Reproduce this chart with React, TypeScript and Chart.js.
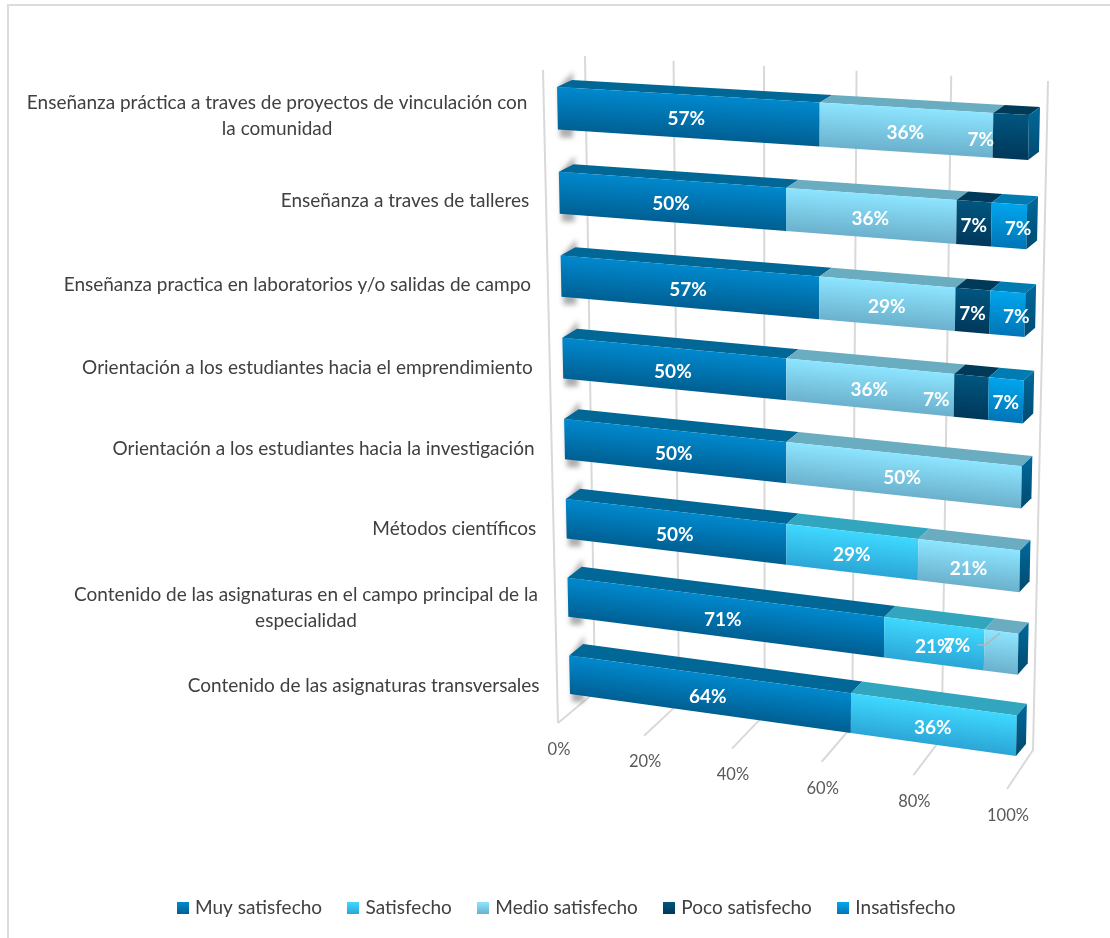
import React, { useEffect, useRef } from "react";
import { Chart, registerables } from "chart.js";

Chart.register(...registerables);

const categories: (string | string[])[] = [
  ["Enseñanza práctica a traves de proyectos de vinculación con", "la comunidad"],
  "Enseñanza a traves de talleres",
  "Enseñanza practica en laboratorios y/o salidas de campo",
  "Orientación a los estudiantes hacia el emprendimiento",
  "Orientación a los estudiantes hacia la investigación",
  "Métodos científicos",
  ["Contenido de las asignaturas en el campo principal de la", "especialidad"],
  "Contenido de las asignaturas transversales",
];

const muySatisfecho = [57.14, 50, 57.14, 50, 50, 50, 71.43, 64.29];
const satisfecho = [null, null, null, null, null, 28.57, 21.43, 35.71];
const medioSatisfecho = [35.72, 35.71, 28.57, 35.71, 50, 21.43, 7.14, null];
const pocoSatisfecho = [7.14, 7.14, 7.14, 7.15, null, null, null, null];
const insatisfecho = [null, 7.15, 7.15, 7.14, null, null, null, null];

const seriesNames = ["Muy satisfecho", "Satisfecho", "Medio satisfecho", "Poco satisfecho", "Insatisfecho"];
const seriesValues = [muySatisfecho, satisfecho, medioSatisfecho, pocoSatisfecho, insatisfecho];

// style: front gradient top, front gradient bottom, top face
const seriesStyles = [
  ["#0089CE", "#005F92", "#006796"],
  ["#3FD8FF", "#2BA6D6", "#33A6BF"],
  ["#8DE5FF", "#6BB0CC", "#6AADC0"],
  ["#005680", "#00385A", "#003A58"],
  ["#00A6EE", "#0075B6", "#007CB2"],
];

// Calibration of the 3-D look: unit square -> quadrilateral on the page
type Pt = [number, number];
const FRONT_PLANE: Pt[] = [[557, 87], [1029, 115], [1016, 756], [570, 694]];
const BACK_PLANE: Pt[] = [[572, 80], [1040, 107], [1026, 744], [584, 682]];
const WALL_PLANE: Pt[] = [[585, 56], [1048, 81], [1033, 750], [595, 692]];
const FLOOR_FRONT: Pt[] = [[558, 723], [1007, 789]];
const SIDE_EDGE: Pt[] = [[543, 70], [558, 723]];
const BAR_FRACTION = 0.5;

// manual label nudges, as in the source (row:series -> dx, dy)
const labelShift: Record<string, Pt> = {
  "0:3": [-30, 0],
  "3:3": [-35, 0],
  "6:2": [-44, -9],
  "1:4": [9, 0],
  "2:4": [9, 0],
};

function homography(q: Pt[]) {
  const [[x0, y0], [x1, y1], [x2, y2], [x3, y3]] = q;
  const dx1 = x1 - x2, dx2 = x3 - x2, dx3 = x0 - x1 + x2 - x3;
  const dy1 = y1 - y2, dy2 = y3 - y2, dy3 = y0 - y1 + y2 - y3;
  const den = dx1 * dy2 - dx2 * dy1;
  const g = (dx3 * dy2 - dx2 * dy3) / den;
  const h = (dx1 * dy3 - dx3 * dy1) / den;
  const a = x1 - x0 + g * x1, b = x3 - x0 + h * x3, c = x0;
  const d = y1 - y0 + g * y1, e = y3 - y0 + h * y3, f = y0;
  return (s: number, t: number): Pt => {
    const w = g * s + h * t + 1;
    return [(a * s + b * t + c) / w, (d * s + e * t + f) / w];
  };
}

const frontMap = homography(FRONT_PLANE);
const backMap = homography(BACK_PLANE);
const wallMap = homography(WALL_PLANE);

// the floor's front edge takes the same fractions as the wall's bottom edge
function floorFront(u: number): Pt {
  const start = wallMap(0, 1)[0], end = wallMap(1, 1)[0];
  const f = (wallMap(u, 1)[0] - start) / (end - start);
  return [
    FLOOR_FRONT[0][0] + f * (FLOOR_FRONT[1][0] - FLOOR_FRONT[0][0]),
    FLOOR_FRONT[0][1] + f * (FLOOR_FRONT[1][1] - FLOOR_FRONT[0][1]),
  ];
}

function poly(ctx: CanvasRenderingContext2D, pts: Pt[]) {
  ctx.beginPath();
  pts.forEach((p, i) => (i ? ctx.lineTo(p[0], p[1]) : ctx.moveTo(p[0], p[1])));
  ctx.closePath();
}

function acrossGradient(ctx: CanvasRenderingContext2D, tl: Pt, tr: Pt, bl: Pt, br: Pt, c0: string, c1: string) {
  const tm: Pt = [(tl[0] + tr[0]) / 2, (tl[1] + tr[1]) / 2];
  const bm: Pt = [(bl[0] + br[0]) / 2, (bl[1] + br[1]) / 2];
  const ex = tr[0] - tl[0], ey = tr[1] - tl[1];
  const len = Math.hypot(ex, ey) || 1;
  const nx = -ey / len, ny = ex / len;
  const d = (bm[0] - tm[0]) * nx + (bm[1] - tm[1]) * ny;
  const g = ctx.createLinearGradient(tm[0], tm[1], tm[0] + nx * d, tm[1] + ny * d);
  g.addColorStop(0, c0);
  g.addColorStop(1, c1);
  return g;
}

function swatch(c0: string, c1: string) {
  const cv = document.createElement("canvas");
  cv.width = 12;
  cv.height = 12;
  const x = cv.getContext("2d") as CanvasRenderingContext2D;
  const g = x.createLinearGradient(0, 0, 0, 12);
  g.addColorStop(0, c0);
  g.addColorStop(1, c1);
  x.fillStyle = g;
  x.fillRect(0, 0, 12, 12);
  return cv;
}

const FONT = "Lato, Carlito, sans-serif";

const plot3d = {
  id: "plot3d",
  beforeDatasetsDraw(chart: any) {
    const { ctx, chartArea: area, scales } = chart;
    const x = scales.x, y = scales.y;
    const U = (px: number) => (px - area.left) / area.width;
    const V = (py: number) => {
      const pad = ((1 - BAR_FRACTION) / 2) * (area.height / categories.length);
      return (py - area.top - pad) / (area.height - 2 * pad);
    };
    ctx.save();

    // gridlines
    ctx.strokeStyle = "#D9D9D9";
    ctx.lineWidth = 2;
    ctx.beginPath();
    ctx.moveTo(SIDE_EDGE[0][0], SIDE_EDGE[0][1]);
    ctx.lineTo(SIDE_EDGE[1][0], SIDE_EDGE[1][1]);
    x.ticks.forEach((tick: any) => {
      const u = U(x.getPixelForValue(tick.value));
      const a = wallMap(u, 0), b = wallMap(u, 1), c = floorFront(u);
      ctx.moveTo(a[0], a[1]);
      ctx.lineTo(b[0], b[1]);
      ctx.lineTo(c[0], c[1]);
    });
    ctx.stroke();

    // value ticks along the floor's front edge
    ctx.fillStyle = "#595959";
    ctx.font = `16.5px ${FONT}`;
    ctx.textAlign = "center";
    ctx.textBaseline = "middle";
    x.ticks.forEach((tick: any) => {
      const p = floorFront(U(x.getPixelForValue(tick.value)));
      ctx.fillText(`${tick.value}%`, p[0] + 1, p[1] + 26.5);
    });

    const metas = seriesValues.map((_, i) => chart.getDatasetMeta(i));
    const nRows = categories.length;

    // category labels
    ctx.fillStyle = "#404040";
    ctx.font = `19px ${FONT}`;
    for (let r = 0; r < nRows; r++) {
      const p = frontMap(0, V(y.getPixelForValue(r)));
      const lines = ([] as string[]).concat(categories[r] as any);
      const w = Math.max(...lines.map((l) => ctx.measureText(l).width));
      const lh = 26;
      lines.forEach((l, i) => {
        ctx.fillText(l, p[0] - 30 - w / 2, p[1] + 8 + (r * 3) / 7 + (i - (lines.length - 1) / 2) * lh);
      });
    }

    // bars
    for (let r = 0; r < nRows; r++) {
      const segs = metas
        .map((m: any, s: number) => ({ el: m.data[r], s, val: seriesValues[s][r] }))
        .filter((d: any) => d.val != null);
      const first = segs[0].el;
      const vt = V(first.y - first.height / 2);
      const vb = V(first.y + first.height / 2);

      // soft shadow on the side wall
      const a = frontMap(0, vt), b = frontMap(0, vb), c = backMap(0, vt);
      ctx.save();
      ctx.filter = "blur(2.5px)";
      ctx.fillStyle = "rgba(105,105,105,0.55)";
      poly(ctx, [[a[0] + 2, a[1]], [c[0] + 1, c[1] - 8], [c[0] + 1, b[1] + 8], [b[0] + 2, b[1] + 8]]);
      ctx.fill();
      ctx.restore();

      segs.forEach((d: any, i: number) => {
        const u0 = U(d.el.base), u1 = U(d.el.x);
        const st = seriesStyles[d.s];
        const ftl = frontMap(u0, vt), ftr = frontMap(u1, vt), fbl = frontMap(u0, vb), fbr = frontMap(u1, vb);
        poly(ctx, [ftl, ftr, backMap(u1, vt), backMap(u0, vt)]);
        ctx.fillStyle = st[2];
        ctx.fill();
        poly(ctx, [ftl, ftr, fbr, fbl]);
        ctx.fillStyle = acrossGradient(ctx, ftl, ftr, fbl, fbr, st[0], st[1]);
        ctx.fill();
        if (i === segs.length - 1) {
          const btr = backMap(u1, vt), bbr = backMap(u1, vb);
          poly(ctx, [ftr, btr, bbr, fbr]);
          const g = ctx.createLinearGradient(0, btr[1], 0, fbr[1]);
          g.addColorStop(0, "#006A9C");
          g.addColorStop(1, "#004A70");
          ctx.fillStyle = g;
          ctx.fill();
        }
      });
    }

    // value labels
    ctx.font = `bold 19px ${FONT}`;
    ctx.fillStyle = "#FFFFFF";
    metas.forEach((m: any, s: number) => {
      m.data.forEach((el: any, r: number) => {
        const val = seriesValues[s][r];
        if (val == null) return;
        const um = (U(el.base) + U(el.x)) / 2;
        const p = frontMap(um, V(el.y));
        const sh = labelShift[`${r}:${s}`] || [0, 0];
        const px = p[0] + sh[0], py = p[1] + 3 + sh[1];
        ctx.fillText(`${Math.round(val)}%`, px, py);
        if (r === 6 && s === 2) {
          ctx.save();
          ctx.strokeStyle = "#B5B5B5";
          ctx.lineWidth = 1.5;
          ctx.beginPath();
          ctx.moveTo(px + 20, py - 1);
          ctx.lineTo(px + 28, py - 1);
          ctx.lineTo(px + 43, py - 13);
          ctx.stroke();
          ctx.restore();
        }
      });
    });

    ctx.restore();
    return false;
  },
};

export default function App() {
  const ref = useRef<HTMLCanvasElement>(null);
  useEffect(() => {
    const chart = new Chart(ref.current as HTMLCanvasElement, {
      type: "bar",
      data: {
        labels: categories as any,
        datasets: seriesNames.map((label, i) => ({
          label,
          data: seriesValues[i] as any,
          backgroundColor: seriesStyles[i][0],
          categoryPercentage: 1,
          barPercentage: BAR_FRACTION,
        })),
      },
      options: {
        indexAxis: "y",
        responsive: false,
        animation: false,
        layout: { padding: { left: 25, right: 0, top: 60, bottom: 10.5 } },
        scales: {
          x: { display: false, stacked: true, min: 0, max: 100, ticks: { stepSize: 20 } },
          y: { display: false, stacked: true },
        },
        plugins: {
          tooltip: { enabled: false },
          legend: {
            position: "bottom",
            labels: {
              usePointStyle: true,
              pointStyleWidth: 6,
              boxHeight: 12,
              padding: 28,
              color: "#404040",
              font: { family: FONT, size: 19 },
              generateLabels() {
                return seriesNames.map((text, i) => ({
                  text,
                  fillStyle: seriesStyles[i][0],
                  strokeStyle: "transparent",
                  lineWidth: 0,
                  fontColor: "#404040",
                  datasetIndex: i,
                  pointStyle: swatch(seriesStyles[i][0], seriesStyles[i][1]),
                }));
              },
            },
          },
        },
      } as any,
      plugins: [plot3d as any],
    });
    return () => chart.destroy();
  }, []);

  return (
    <div style={{ position: "absolute", left: 0, top: 0, width: 1110, height: 938, background: "#FFFFFF", overflow: "hidden" }}>
      <div style={{ position: "absolute", left: 7, top: 4, right: -4, bottom: -4, border: "2px solid #DCDCDC", boxSizing: "border-box" }} />
      <canvas ref={ref} width={1110} height={938} style={{ position: "absolute", left: 0, top: 0, display: "block" }} />
    </div>
  );
}
